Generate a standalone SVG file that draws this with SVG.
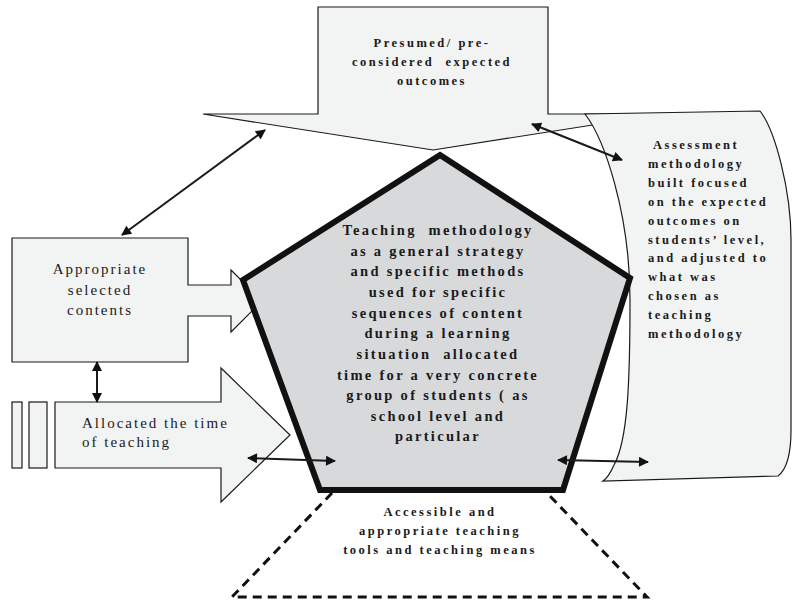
<svg xmlns="http://www.w3.org/2000/svg" width="792" height="602" viewBox="0 0 792 602">
<defs>
<marker id="ah" viewBox="0 0 10 10" refX="9" refY="5" markerWidth="6" markerHeight="5" orient="auto-start-reverse" markerUnits="strokeWidth">
<path d="M0,0 L10,5 L0,10 Z" fill="#111"/>
</marker>
</defs>
<style>
.shape{fill:#f2f3f3;stroke:#1a1a1a;stroke-width:1.2}
.b{font-family:"Liberation Serif",serif;font-weight:bold;font-size:12.5px;letter-spacing:2.5px;fill:#1a1a1a}
.p{font-family:"Liberation Serif",serif;font-weight:bold;font-size:14.5px;letter-spacing:2.3px;fill:#1a1a1a}
.r{font-family:"Liberation Serif",serif;font-size:15px;letter-spacing:2px;fill:#1a1a1a}
.c{fill:none;stroke:#1a1a1a;stroke-width:2;marker-start:url(#ah);marker-end:url(#ah)}
</style>
<rect width="792" height="602" fill="#ffffff"/>
<g id="outcomes">
<path class="shape" d="M318,7 L548,7 L548,114 L663,114 L433,150 L203,114 L318,114 Z"/>
<text class="b" text-anchor="middle"><tspan x="432" y="47">Presumed/ pre-</tspan><tspan x="432" y="66">considered&#160; expected</tspan><tspan x="432" y="85">outcomes</tspan></text>
</g>
<g id="assessment">
<path class="shape" d="M585,114 C605,140 630,215 630,300 C630,380 628,440 614,465 C610,474 606,479 603,481 L778,476 C786,470 791,455 791,430 L791,240 C791,190 775,130 760,111 Z"/>
<text class="b"><tspan x="653" y="149">Assessment</tspan><tspan x="648" y="168">methodology</tspan><tspan x="648" y="187">built focused</tspan><tspan x="648" y="206">on the expected</tspan><tspan x="648" y="225">outcomes on</tspan><tspan x="648" y="244">students’ level,</tspan><tspan x="648" y="262">and adjusted to</tspan><tspan x="648" y="281">what was</tspan><tspan x="648" y="300">chosen as</tspan><tspan x="648" y="319">teaching</tspan><tspan x="648" y="338">methodology</tspan></text>
</g>
<g id="contents">
<path class="shape" d="M12,238 L188,238 L188,285 L231,285 L231,270 L262,301 L231,332 L231,316 L188,316 L188,362 L12,362 Z"/>
<text class="r" text-anchor="middle"><tspan x="100" y="274">Appropriate</tspan><tspan x="100" y="295">selected</tspan><tspan x="100" y="315">contents</tspan></text>
</g>
<g id="time">
<rect class="shape" x="12" y="402" width="10" height="66"/>
<rect class="shape" x="29" y="402" width="18" height="66"/>
<path class="shape" d="M55,402 L221,402 L221,368 L290,435 L221,502 L221,468 L55,468 Z"/>
<text class="r"><tspan x="82" y="428">Allocated the time</tspan><tspan x="82" y="447">of teaching</tspan></text>
</g>
<g id="teaching">
<path d="M440,155 L630,278 L563,490 L320,490 L243,280 Z" fill="#d8d9db" stroke="#111" stroke-width="6" stroke-linejoin="miter"/>
<text class="p" text-anchor="middle"><tspan x="438" y="235">Teaching&#160; methodology</tspan><tspan x="438" y="256">as a general strategy</tspan><tspan x="438" y="276">and specific methods</tspan><tspan x="438" y="297">used for specific</tspan><tspan x="438" y="318">sequences of content</tspan><tspan x="438" y="338">during a learning</tspan><tspan x="438" y="359">situation&#160; allocated</tspan><tspan x="438" y="380">time for a very concrete</tspan><tspan x="438" y="400">group of students ( as</tspan><tspan x="438" y="421">school level and</tspan><tspan x="438" y="441">particular</tspan></text>
</g>
<g id="tools">
<path d="M332,493 L232,597 L647,597 L547,493" fill="none" stroke="#111" stroke-width="3" stroke-dasharray="9,6"/>
<text class="b" text-anchor="middle"><tspan x="440" y="516">Accessible and</tspan><tspan x="440" y="535">appropriate teaching</tspan><tspan x="440" y="554">tools and teaching means</tspan></text>
</g>
<g id="connectors">
<line class="c" x1="122" y1="235" x2="265" y2="130"/>
<line class="c" x1="532" y1="124" x2="622" y2="160"/>
<line class="c" x1="97" y1="362" x2="97" y2="402"/>
<line class="c" x1="248" y1="458" x2="335" y2="461"/>
<line class="c" x1="558" y1="460" x2="648" y2="462"/>
</g>
</svg>
